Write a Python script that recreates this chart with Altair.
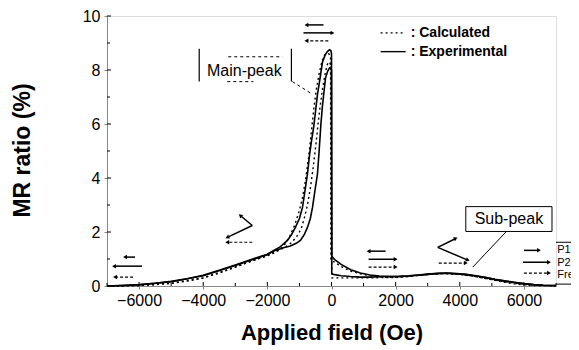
import math
import altair as alt
import pandas as pd

# ---------------- data ----------------
# Experimental, branch A (outer loop, higher main peak)
expA_field = [-7000, -6500, -6000, -5500, -5000, -4500, -4000, -3500, -3000, -2500, -2000,
              -1800, -1600, -1375, -1250, -1125, -1000, -906, -830, -750, -680, -620, -560,
              -500, -437, -350, -281, -200, -130, -62, -20, 0, 8,
              100, 300, 600, 900, 1200, 1500, 1800, 2100, 2400, 2700, 3000, 3300, 3600,
              3900, 4200, 4500, 4800, 5100, 5400, 5700, 6000, 6300, 6600, 7000]
expA_mr = [0.0, 0.02, 0.05, 0.1, 0.17, 0.27, 0.4, 0.58, 0.78, 0.98, 1.18,
           1.32, 1.45, 1.69, 1.9, 2.17, 2.5, 2.9, 3.5, 4.15, 4.9, 5.4, 5.85,
           6.45, 7.1, 7.75, 8.3, 8.55, 8.68, 8.75, 8.72, 8.6, 1.1,
           0.98, 0.8, 0.6, 0.48, 0.41, 0.37, 0.35, 0.36, 0.38, 0.41, 0.44, 0.47, 0.48,
           0.46, 0.43, 0.38, 0.32, 0.25, 0.19, 0.14, 0.09, 0.05, 0.03, 0.02]

# Experimental, branch B (inner loop, lower main peak)
expB_field = [-7000, -6000, -5000, -4000, -3000, -2500, -2000, -1800, -1500, -1281, -1100,
              -969, -850, -750, -660, -594, -520, -437, -380, -330, -280, -187, -120, -60,
              -20, 0, 8, 100, 300, 600, 900, 1200, 1500, 1800, 2100, 2400, 2700, 3000,
              3300, 3600, 3900, 4200, 4500, 4800, 5100, 5400, 5700, 6000, 6300, 6600, 7000]
expB_mr = [0.0, 0.04, 0.16, 0.38, 0.76, 0.96, 1.16, 1.3, 1.42, 1.48, 1.58,
           1.69, 1.9, 2.17, 2.5, 2.9, 3.5, 4.15, 5.1, 6.0, 6.7, 7.7, 7.95, 8.08,
           8.1, 8.0, 0.45, 0.42, 0.38, 0.35, 0.33, 0.33, 0.34, 0.35, 0.35, 0.37, 0.4, 0.43,
           0.46, 0.47, 0.45, 0.42, 0.37, 0.31, 0.24, 0.18, 0.13, 0.08, 0.05, 0.03, 0.02]

# Calculated, curve 1 (left of outer loop)
calc1_field = [-7000, -6500, -6000, -5500, -5000, -4500, -4000, -3500, -3000, -2500, -2000,
               -1800, -1600, -1450, -1300, -1150, -1000, -900, -800, -700, -620, -550, -470,
               -380, -300, -220, -150, -80, -30, -20,
               100, 300, 600, 900, 1200, 1500, 1800, 2100, 2400, 2700, 3000, 3300, 3600,
               3900, 4200, 4500, 4800, 5100, 5400, 5700, 6000, 6300, 7000]
calc1_mr = [0.0, 0.0, 0.02, 0.05, 0.1, 0.18, 0.3, 0.48, 0.7, 0.92, 1.12,
            1.22, 1.35, 1.55, 1.85, 2.25, 2.8, 3.3, 4.0, 4.9, 5.8, 6.6, 7.3,
            7.9, 8.3, 8.55, 8.62, 8.6, 8.5, 0.95,
            0.88, 0.72, 0.55, 0.45, 0.38, 0.34, 0.32, 0.33, 0.36, 0.4, 0.43, 0.46, 0.47,
            0.45, 0.41, 0.35, 0.28, 0.21, 0.14, 0.08, 0.04, 0.02, 0.0]

# Calculated, curve 2 (between the two experimental loops)
calc2_field = [-7000, -6000, -5000, -4000, -3000, -2500, -2000, -1800, -1500, -1300, -1100,
               -950, -850, -750, -650, -560, -480, -420, -350, -280, -200, -130, -80, -40,
               -15, 10, 300, 600, 1000, 1500, 2000, 2500, 3000, 3500, 4000, 4500, 5000,
               5500, 6000, 6500, 7000]
calc2_mr = [0.0, 0.02, 0.1, 0.3, 0.7, 0.92, 1.12, 1.25, 1.4, 1.55, 1.8,
            2.1, 2.5, 3.0, 3.7, 4.5, 5.3, 6.0, 6.7, 7.3, 7.85, 8.2, 8.3, 8.25,
            8.1, 0.3, 0.3, 0.3, 0.3, 0.31, 0.31, 0.36, 0.42, 0.46, 0.43, 0.35, 0.24,
            0.14, 0.06, 0.02, 0.0]

x_ticks = [-6000, -4000, -2000, 0, 2000, 4000, 6000]
x_minor = [-7000, -5000, -3000, -1000, 1000, 3000, 5000, 7000]
y_ticks = [0, 2, 4, 6, 8, 10]
y_minor = [1, 3, 5, 7, 9]

# magnetisation-configuration arrows: (x1, y1, x2, y2, layer); head at (x2, y2)
arrow_x1 = [-6125, -5906, -6187, -250, -875, -100, -2469, -2469, -2469,
            1687, 1156, 1156, 3312, 3312, 3344, 6000, 5969, 6000]
arrow_y1 = [1.07, 0.735, 0.33, 9.67, 9.375, 9.08, 2.24, 2.24, 1.62,
            1.29, 0.99, 0.70, 1.43, 1.43, 0.85, 1.32, 0.88, 0.48]
arrow_x2 = [-6437, -6781, -6750, -781, 31, -781, -2844, -3250, -3250,
            1156, 2000, 2000, 3875, 4250, 4187, 6469, 6781, 6781]
arrow_y2 = [1.07, 0.735, 0.33, 9.67, 9.375, 9.08, 2.61, 1.80, 1.62,
            1.29, 0.99, 0.70, 1.76, 0.96, 0.85, 1.32, 0.88, 0.48]
arrow_layer = ["P1", "P2", "Free", "P1", "P2", "Free", "P1", "P2", "Free",
               "P1", "P2", "Free", "P1", "P2", "Free", "P1", "P2", "Free"]

legend_labels = [": Calculated", ": Experimental"]
legend_y = [9.375, 8.68]
legend_x1 = [1531, 1531]
legend_x2 = [2312, 2312]
legend_tx = [2469, 2469]

layer_labels = ["P1", "P2", "Free"]
layer_label_y = [1.32, 0.86, 0.40]

# ---------------- frames ----------------
def curve(fx, fy, name):
    return pd.DataFrame({"field": fx, "mr": fy, "curve": name, "i": range(len(fx))})

exp_df = pd.concat([curve(expA_field, expA_mr, "A"), curve(expB_field, expB_mr, "B")])
calc_df = pd.concat([curve(calc1_field, calc1_mr, "C1"), curve(calc2_field, calc2_mr, "C2")])

W, H = 449, 270
XPX = W / 14000.0
YPX = H / 10.0
angles = []
for a, b, c, d in zip(arrow_x1, arrow_y1, arrow_x2, arrow_y2):
    dx = (c - a) * XPX
    dys = -(d - b) * YPX
    angles.append(math.degrees(math.atan2(dx, -dys)) % 360)
arrows = pd.DataFrame({"x1": arrow_x1, "y1": arrow_y1, "x2": arrow_x2, "y2": arrow_y2,
                       "layer": arrow_layer, "angle": angles})
arrows["free"] = arrows["layer"] == "Free"

xs = alt.Scale(domain=[-7000, 7000], nice=False, zero=False)
ys = alt.Scale(domain=[0, 10], nice=False, zero=False)
FONT = "Liberation Sans"

base_x = alt.X("field:Q", scale=xs, axis=alt.Axis(
    values=x_ticks, title="Applied field (Oe)", format="d", labelFontSize=16,
    titleFontSize=22, titleFontWeight="bold", tickSize=3, labelPadding=3,
    titlePadding=14, grid=False))
base_y = alt.Y("mr:Q", scale=ys, axis=alt.Axis(
    values=y_ticks, title="MR ratio (%)", labelFontSize=16, titleFontSize=23,
    titleFontWeight="bold", tickSize=3, labelPadding=4, grid=False,
    titleX=-85, titleY=134, titleAlign="center", titleBaseline="middle"))

exp_line = alt.Chart(exp_df).mark_line(color="black", strokeWidth=1.6).encode(
    x=base_x, y=base_y, detail="curve:N", order="i:Q")
calc_line = alt.Chart(calc_df).mark_line(color="black", strokeWidth=1.4, strokeDash=[2, 3]).encode(
    x="field:Q", y="mr:Q", detail="curve:N", order="i:Q")

# axis ticks drawn inside the frame
xt_df = pd.DataFrame({"field": x_ticks})
xm_df = pd.DataFrame({"field": x_minor})
yt_df = pd.DataFrame({"mr": y_ticks})
ym_df = pd.DataFrame({"mr": y_minor})
x_in = alt.Chart(xt_df).mark_rule(color="black").encode(
    x="field:Q", y=alt.value(H), y2=alt.value(H - 4))
x_min = alt.Chart(xm_df).mark_rule(color="black").encode(
    x="field:Q", y=alt.value(H), y2=alt.value(H - 3))
y_in = alt.Chart(yt_df).mark_rule(color="black").encode(
    y="mr:Q", x=alt.value(0), x2=alt.value(4))
y_min = alt.Chart(ym_df).mark_rule(color="black").encode(
    y="mr:Q", x=alt.value(0), x2=alt.value(3))

# arrows
solid_arrows = alt.Chart(arrows[~arrows["free"]]).mark_rule(color="black", strokeWidth=1.5).encode(
    x="x1:Q", y="y1:Q", x2="x2:Q", y2="y2:Q")
free_arrows = alt.Chart(arrows[arrows["free"]]).mark_rule(color="black", strokeWidth=1.2, strokeDash=[3, 2]).encode(
    x="x1:Q", y="y1:Q", x2="x2:Q", y2="y2:Q")
heads = alt.Chart(arrows).mark_point(shape="triangle-up", filled=True, color="black", size=20, opacity=1).encode(
    x="x2:Q", y="y2:Q", angle=alt.Angle("angle:Q", scale=None))

# legend
leg_df = pd.DataFrame({"x1": legend_x1, "x2": legend_x2, "y": legend_y, "tx": legend_tx,
                       "label": legend_labels})
leg_calc = alt.Chart(leg_df.iloc[[0]]).mark_rule(color="black", strokeWidth=1.2, strokeDash=[2, 3]).encode(
    x="x1:Q", x2="x2:Q", y="y:Q")
leg_exp = alt.Chart(leg_df.iloc[[1]]).mark_rule(color="black", strokeWidth=1.4).encode(
    x="x1:Q", x2="x2:Q", y="y:Q")
leg_text = alt.Chart(leg_df).mark_text(align="left", baseline="middle", font=FONT,
                                       fontSize=14, fontWeight="bold", color="black").encode(
    x="tx:Q", y="y:Q", text="label:N")

# Main-peak label
mp_bars = pd.DataFrame({"x": [-4125, -1250], "y1": [7.57, 7.57], "y2": [8.79, 8.79]})
mp_bar = alt.Chart(mp_bars).mark_rule(color="black", strokeWidth=1.2).encode(
    x="x:Q", y="y1:Q", y2="y2:Q")
mp_dash_df = pd.DataFrame({"x1": [-3219, -3250, -1219], "x2": [-1531, -2437, -594],
                           "y1": [8.49, 7.57, 7.57], "y2": [8.49, 7.57, 7.10]})
mp_dash = alt.Chart(mp_dash_df).mark_rule(color="black", strokeWidth=1, strokeDash=[3, 3]).encode(
    x="x1:Q", x2="x2:Q", y="y1:Q", y2="y2:Q")
mp_text = alt.Chart(pd.DataFrame({"x": [-2719], "y": [7.96], "t": ["Main-peak"]})).mark_text(
    font=FONT, fontSize=16, color="black").encode(x="x:Q", y="y:Q", text="t:N")

# Sub-peak label
sp_box = alt.Chart(pd.DataFrame({"x1": [4187], "x2": [6875], "y1": [2.02], "y2": [2.94]})).mark_rect(
    fill="white", stroke="black", strokeWidth=1).encode(x="x1:Q", x2="x2:Q", y="y1:Q", y2="y2:Q")
sp_text = alt.Chart(pd.DataFrame({"x": [5531], "y": [2.48], "t": ["Sub-peak"]})).mark_text(
    font=FONT, fontSize=16, color="black").encode(x="x:Q", y="y:Q", text="t:N")
sp_lead = alt.Chart(pd.DataFrame({"x1": [5437], "x2": [4406], "y1": [2.0], "y2": [0.7]})).mark_rule(
    color="black", strokeWidth=1).encode(x="x1:Q", x2="x2:Q", y="y1:Q", y2="y2:Q")

# P1 / P2 / Free key (outside the frame, right)
key_lines = alt.Chart(pd.DataFrame({"x1": [7000, 7000], "x2": [7800, 7800], "y": [1.62, 0.07]})).mark_rule(
    color="black", strokeWidth=1).encode(x="x1:Q", x2="x2:Q", y="y:Q")
key_text = alt.Chart(pd.DataFrame({"x": [7040] * 3, "y": layer_label_y, "t": layer_labels})).mark_text(
    align="left", baseline="middle", font=FONT, fontSize=11, color="black").encode(
    x="x:Q", y="y:Q", text="t:N")

chart = alt.layer(
    exp_line, calc_line, x_in, x_min, y_in, y_min,
    solid_arrows, free_arrows, heads,
    leg_calc, leg_exp, leg_text,
    mp_bar, mp_dash, mp_text,
    sp_box, sp_text, sp_lead,
    key_lines, key_text,
).properties(
    width=W, height=H,
    autosize=alt.AutoSizeParams(type="none"),
    padding={"left": 99, "top": 8, "right": 15, "bottom": 64},
).configure_view(
    stroke="black", strokeWidth=1
).configure_axis(
    labelFont=FONT, titleFont=FONT, labelColor="black", titleColor="black",
    domainColor="black", tickColor="black", domainWidth=1
).configure(background="white")

chart.save("out.html", embed_options={"renderer": "svg", "actions": False})
